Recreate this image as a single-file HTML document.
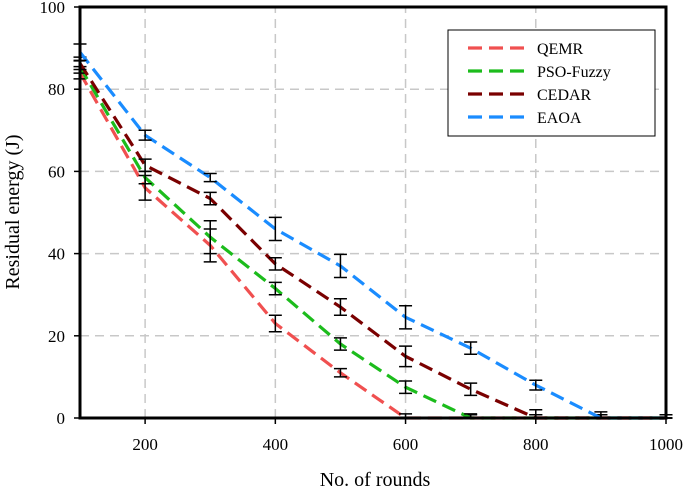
<!DOCTYPE html>
<html><head><meta charset="utf-8"><style>
body{margin:0;background:#fff}
svg text{font-family:"Liberation Serif",serif;fill:#000}
</style></head><body>
<svg id="chart" width="685" height="489" xmlns="http://www.w3.org/2000/svg"></svg>
<script>
const rounds=[100,200,300,400,500,600,700,800,900,1000];
const seriesNames=["QEMR","PSO-Fuzzy","CEDAR","EAOA"];
const qemr=[84,56,42,23,11,0,0,0,0,0];
const psoFuzzy=[85.4,58.5,44,31.5,18,7.5,0,0,0,0];
const cedar=[86.3,61.5,53.4,37.5,27,15,7,0,0,0];
const eaoa=[89,68.8,58.5,46,37,24.5,17,8,0,0];
const errQemr=[1.5,3,4,2,1,1,0.8,0.8,0.8,0.8];
const errPso=[1.5,1.5,4,1.5,1.5,1.5,1,0.8,0.8,0.8];
const errCedar=[1.5,1.5,1.5,1.5,2,2.5,1.5,2,0.8,0.8];
const errEaoa=[2,1.2,1,2.8,2.8,2.8,1.5,1.2,1.5,0.8];
const xTicks=[200,400,600,800,1000];
const yTicks=[0,20,40,60,80,100];
const colors=["#f05050","#1cbc1c","#7a0000","#1a8cff"];

const svg=document.getElementById('chart');
const NS="http://www.w3.org/2000/svg";
const X0=80,X1=666,Y0=418,Y1=7;
const xs=v=>X0+(v-100)/900*(X1-X0);
const ys=v=>Y0-v/100*(Y0-Y1);
function mk(t,a,p){const e=document.createElementNS(NS,t);for(const k in a)e.setAttribute(k,a[k]);(p||svg).appendChild(e);return e;}

const grid=mk('g',{});


xTicks.forEach(t=>{if(t<1000)mk('line',{x1:xs(t),x2:xs(t),y1:Y0,y2:Y1,stroke:'#c8c8c8','stroke-width':1.5,'stroke-dasharray':'9,6'},grid);});
yTicks.forEach(t=>{if(t>0&&t<100)mk('line',{x1:X0,x2:X1,y1:ys(t),y2:ys(t),stroke:'#c8c8c8','stroke-width':1.5,'stroke-dasharray':'9,6'},grid);});

const data=[qemr,psoFuzzy,cedar,eaoa];
const errs=[errQemr,errPso,errCedar,errEaoa];
data.forEach((d,i)=>{
  const g=mk('g',{});
  
  
  const pl=mk('polyline',{points:d.map((v,j)=>xs(rounds[j])+','+ys(v)).join(' '),fill:'none',stroke:colors[i],'stroke-width':3.2,'stroke-dasharray':'14,7'},g);
  
  
  d.forEach((v,j)=>{
    const x=xs(rounds[j]),e=errs[i][j];
    const eb=mk('path',{d:`M${x},${ys(v+e)}V${ys(Math.max(v-e,0))}M${x-6.5},${ys(v+e)}H${x+6.5}M${x-6.5},${ys(Math.max(v-e,0))}H${x+6.5}`,stroke:'#000','stroke-width':1.5,fill:'none'},g);
    
    
  });
});

const frame=mk('rect',{x:X0,y:Y1,width:X1-X0,height:Y0-Y1,fill:'none',stroke:'#000','stroke-width':3});



xTicks.forEach(t=>{
  mk('line',{x1:xs(t),x2:xs(t),y1:Y0,y2:Y0+6,stroke:'#000','stroke-width':1.5});
  const tx=mk('text',{x:xs(t),y:450,'text-anchor':'middle','font-size':17});
  tx.textContent=t;
  
  
});
yTicks.forEach(t=>{
  mk('line',{x1:X0-6,x2:X0,y1:ys(t),y2:ys(t),stroke:'#000','stroke-width':1.5});
  const tx=mk('text',{x:X0-15,y:ys(t)+6,'text-anchor':'end','font-size':17});
  tx.textContent=t;
  
  
});

const xt=mk('text',{x:375,y:486,'text-anchor':'middle','font-size':20});
xt.textContent='No. of rounds';


const yt=mk('text',{x:0,y:0,'text-anchor':'middle','font-size':20,transform:'translate(19,212) rotate(-90)'});
yt.textContent='Residual energy (J)';



const lg=mk('g',{});


mk('rect',{x:448,y:30,width:207,height:106,fill:'#fff',stroke:'#000','stroke-width':1},lg);
seriesNames.forEach((n,i)=>{
  const y=48+i*23;
  const en=mk('g',{},lg);
  
  
  mk('line',{x1:468,x2:525,y1:y,y2:y,stroke:colors[i],'stroke-width':3.2,'stroke-dasharray':'14,7'},en);
  const t=mk('text',{x:537,y:y+6,'font-size':16},en);
  t.textContent=n;
});
</script>
</body></html>
